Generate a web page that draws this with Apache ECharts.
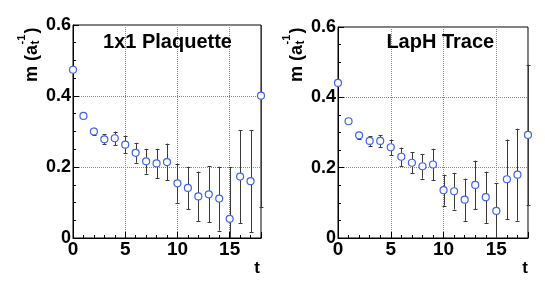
<!DOCTYPE html>
<html><head><meta charset="utf-8">
<script src="https://cdn.jsdelivr.net/npm/echarts@6/dist/echarts.min.js"></script>
<style>html,body{margin:0;padding:0;background:#fff}#c{width:545px;height:282px}</style>
</head><body><div id="c"></div>
<script>
// ---- data ----
const tValues = [0,1,2,3,4,5,6,7,8,9,10,11,12,13,14,15,16,17,18];
const plaqMass = [0.474,0.344,0.300,0.278,0.281,0.263,0.240,0.216,0.210,0.214,0.154,0.141,0.117,0.123,0.111,0.054,0.173,0.160,0.401];
const plaqErr  = [0.005,0.006,0.011,0.014,0.019,0.024,0.028,0.035,0.041,0.052,0.055,0.060,0.070,0.079,0.090,0.145,0.131,0.144,0.315];
const lapMass  = [0.441,0.332,0.292,0.276,0.276,0.258,0.231,0.214,0.204,0.209,0.136,0.133,0.109,0.151,0.116,0.077,0.167,0.180,0.293];
const lapErr   = [0.004,0.005,0.010,0.014,0.017,0.022,0.026,0.030,0.035,0.045,0.044,0.052,0.060,0.069,0.073,0.078,0.113,0.131,0.200];
const panelTitles = ['1x1 Plaquette', 'LapH Trace'];
const xTitle = 't';
const yTitleMain = 'm (a', yTitleSub = 't', yTitleSup = '-1', yTitleEnd = ')';
const xMin = 0, xMax = 18, xInterval = 5;
const yMin = 0, yMax = 0.6, yInterval = 0.2;

// ---- chart ----
const FONT = "'Liberation Sans', Arial, Helvetica, sans-serif";
const chart = echarts.init(document.getElementById('c'), null, {renderer: 'canvas'});

const grids = [
  {left: 73, top: 25, width: 188, height: 213},
  {left: 338, top: 27, width: 190, height: 211}
];

function xAxisCfg(i) {
  return {
    gridIndex: i, type: 'value', min: xMin, max: xMax, interval: xInterval,
    axisLine: {show: true, onZero: false, lineStyle: {color: '#000', width: 1}},
    axisTick: {show: true, inside: true, length: 6, lineStyle: {color: '#000'}},
    minorTick: {show: true, splitNumber: 5, length: 3, lineStyle: {color: '#000'}},
    axisLabel: {fontFamily: FONT, fontWeight: 'bold', fontSize: 19, color: '#000', margin: 2, showMaxLabel: false},
    splitLine: {show: true, lineStyle: {type: 'dotted', color: '#888', width: 1}}
  };
}
function yAxisCfg(i) {
  return {
    gridIndex: i, type: 'value', min: yMin, max: yMax, interval: yInterval,
    axisLine: {show: true, onZero: false, lineStyle: {color: '#000', width: 1}},
    axisTick: {show: true, inside: true, length: 6, lineStyle: {color: '#000'}},
    minorTick: {show: true, splitNumber: 4, length: 3, lineStyle: {color: '#000'}},
    axisLabel: {fontFamily: FONT, fontWeight: 'bold', fontSize: 18, color: '#000', margin: 2},
    splitLine: {show: true, lineStyle: {type: 'dotted', color: '#888', width: 1}}
  };
}

function errRender(params, api) {
  const x = api.value(0), y = api.value(1), e = api.value(2);
  const lo = Math.max(yMin, y - e), hi = Math.min(yMax, y + e);
  const pc = api.coord([x, y]);
  const pLo = api.coord([x, lo]), pHi = api.coord([x, hi]);
  const px = Math.round(pc[0]) + 0.5;
  const r = 3.5;
  const style = {stroke: '#3a3a3a', lineWidth: 1};
  const children = [];
  if (pHi[1] < pc[1] - r) children.push({type: 'line', shape: {x1: px, y1: pc[1] - r, x2: px, y2: pHi[1]}, style});
  if (pLo[1] > pc[1] + r) children.push({type: 'line', shape: {x1: px, y1: pc[1] + r, x2: px, y2: pLo[1]}, style});
  if (y + e <= yMax && pHi[1] < pc[1] - r) {
    const yy = Math.round(pHi[1]) + 0.5;
    children.push({type: 'line', shape: {x1: px - 2, y1: yy, x2: px + 2, y2: yy}, style});
  }
  if (y - e >= yMin && pLo[1] > pc[1] + r) {
    const yy = Math.round(pLo[1]) + 0.5;
    children.push({type: 'line', shape: {x1: px - 2, y1: yy, x2: px + 2, y2: yy}, style});
  }
  return {type: 'group', children};
}

function panelSeries(i, mass, err) {
  return [
    {
      type: 'custom', xAxisIndex: i, yAxisIndex: i, z: 2,
      renderItem: errRender,
      data: tValues.map((t, k) => [t, mass[k], err[k]]),
      encode: {x: 0, y: 1}, silent: true
    },
    {
      type: 'scatter', xAxisIndex: i, yAxisIndex: i, z: 3,
      symbol: 'circle', symbolSize: 7,
      itemStyle: {color: '#fff', borderColor: '#3f63f0', borderWidth: 1.2, opacity: 1},
      data: tValues.map((t, k) => [t, mass[k]]), silent: true
    }
  ];
}

function yTitle(x0, y0) {
  const f = (s) => 'bold ' + s + 'px ' + FONT;
  return {
    type: 'group', x: x0, y: y0, rotation: Math.PI / 2,
    children: [
      {type: 'text', style: {text: yTitleMain, x: 0, y: -6, font: f(18), fill: '#000', align: 'left', verticalAlign: 'middle', textAlign: 'left', textVerticalAlign: 'middle'}},
      {type: 'text', style: {text: yTitleSub, x: 37.5, y: -2, font: f(12), fill: '#000', align: 'left', verticalAlign: 'middle', textAlign: 'left', textVerticalAlign: 'middle'}},
      {type: 'text', style: {text: yTitleSup, x: 37.5, y: -16.5, font: f(11), fill: '#000', align: 'left', verticalAlign: 'middle', textAlign: 'left', textVerticalAlign: 'middle'}},
      {type: 'text', style: {text: yTitleEnd, x: 48.5, y: -6, font: f(18), fill: '#000', align: 'left', verticalAlign: 'middle', textAlign: 'left', textVerticalAlign: 'middle'}}
    ]
  };
}
function txt(text, x, y, size, align) {
  return {type: 'text', style: {text, x, y, font: 'bold ' + size + 'px ' + FONT, fill: '#000',
    align: align, verticalAlign: 'middle', textAlign: align, textVerticalAlign: 'middle'}, z: 10};
}

chart.setOption({
  backgroundColor: '#fff',
  animation: false,
  grid: grids.map(g => Object.assign({show: true, borderColor: '#000', borderWidth: 1, backgroundColor: 'transparent'}, g)),
  xAxis: [xAxisCfg(0), xAxisCfg(1)],
  yAxis: [yAxisCfg(0), yAxisCfg(1)],
  series: [...panelSeries(0, plaqMass, plaqErr), ...panelSeries(1, lapMass, lapErr)],
  graphic: [
    txt(panelTitles[0], 167.5, 42, 20, 'center'),
    txt(panelTitles[1], 440.3, 42.5, 20, 'center'),
    txt(xTitle, 257, 268, 17, 'center'),
    txt(xTitle, 525, 268, 17, 'center'),
    yTitle(38, 82),
    yTitle(303, 82)
  ]
});
</script>
</body></html>
